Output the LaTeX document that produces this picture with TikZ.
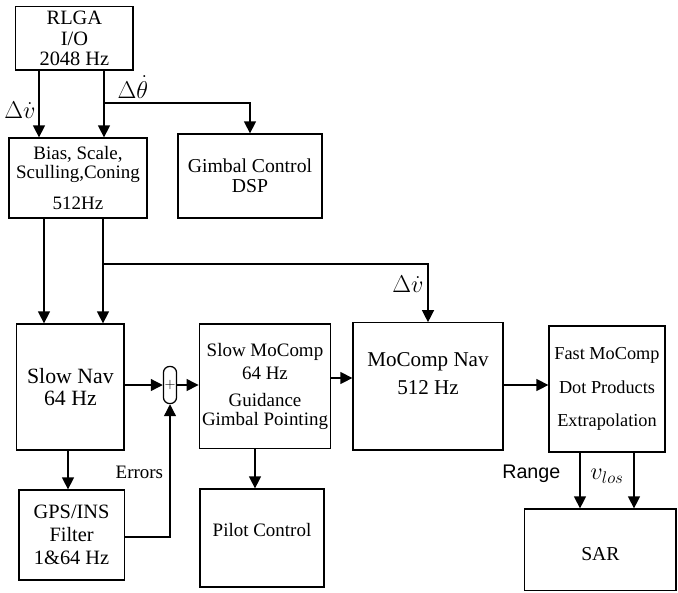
\documentclass[tikz,border=0pt]{standalone}
\usepackage{fontspec}
\setmainfont{Liberation Serif}
\newfontfamily\sansfont{Liberation Sans}
\usetikzlibrary{arrows.meta}

\tikzset{
    blk/.style={draw,line width=0.9pt,align=center,inner sep=2pt},
    arr/.style={line width=0.9pt,-{Triangle[length=8.5pt,width=8.5pt]}},
    fs/.style={font=\fontsize{#1}{#1}\selectfont}
}

\begin{document}
\begin{tikzpicture}[font=\fontsize{13.5}{15}\selectfont]
    \useasboundingbox (0,0) rectangle (16.95,-14.8);
    \node[blk,minimum width=2.93cm,minimum height=1.58cm,fs=14.5] (rlga) at (1.86,-0.96) {RLGA\\ I/O\\ 2048 Hz};
    \node[blk,minimum width=3.45cm,minimum height=2cm,fs=13.5] (bias) at (1.95,-4.45) {Bias, Scale,\\ Sculling,Coning\\[8pt] 512Hz};
    \node[blk,minimum width=3.6cm,minimum height=2.1cm,fs=14] (gimbal) at (6.25,-4.4) {Gimbal Control\\ DSP};
    \node[blk,minimum width=2.68cm,minimum height=3.15cm,fs=15.5] (slownav) at (1.76,-9.675) {Slow Nav\\ 64 Hz};
    \node[draw,line width=0.9pt,minimum width=0.33cm,minimum height=0.93cm,rounded corners=0.16cm,inner sep=0pt,fs=10] (sum) at (4.25,-9.625) {$+$};
    \node[blk,minimum width=3.25cm,minimum height=3.12cm,fs=13.5] (slowmc) at (6.625,-9.66) {Slow MoComp\\[3pt] 64 Hz\\[6pt] Guidance\\ Gimbal Pointing};
    \node[blk,minimum width=3.75cm,minimum height=3.18cm,fs=15,text depth=0.65cm] (mcnav) at (10.7,-9.66) {MoComp Nav\\[5pt] 512 Hz};
    \node[blk,minimum width=2.9cm,minimum height=3.15cm,fs=13] (fast) at (15.175,-9.725) {Fast MoComp\\[11pt] Dot Products\\[11pt] Extrapolation};
    \node[blk,minimum width=2.63cm,minimum height=2.25cm,fs=14.5] (gps) at (1.79,-13.375) {GPS/INS\\[2pt] Filter\\[2pt] 1\&64 Hz};
    \node[blk,minimum width=3.1cm,minimum height=2.45cm,fs=13.5,text depth=0.4cm] (pilot) at (6.55,-13.45) {Pilot Control};
    \node[blk,minimum width=3.78cm,minimum height=2.03cm,fs=14,text height=0.55cm] (sar) at (15.01,-13.74) {SAR};

    \coordinate (xa) at (0.975,0);
    \coordinate (xb) at (2.6,0);
    \coordinate (xc) at (1.1,0);
    \coordinate (xd) at (2.575,0);
    \coordinate (xe) at (1.7,0);
    \coordinate (xf) at (6.375,0);
    \coordinate (xg) at (14.5,0);
    \coordinate (xh) at (15.85,0);
    \coordinate (ya) at (0,-9.45);
    \coordinate (yb) at (0,-9.625);
    \coordinate (yc) at (0,-13.425);
    \coordinate (tapa) at (2.6,-2.575);
    \coordinate (tapb) at (2.575,-6.6);

    \draw[arr] (xa |- rlga.south) -- (xa |- bias.north);
    \draw[arr] (xb |- rlga.south) -- (xb |- bias.north);
    \draw[arr] (tapa) -| (gimbal.north);
    \draw[arr] (xc |- bias.south) -- (xc |- slownav.north);
    \draw[arr] (xd |- bias.south) -- (xd |- slownav.north);
    \draw[arr] (tapb) -| (mcnav.north);
    \draw[arr] (slownav.east |- sum.west) -- (sum.west);
    \draw[arr] (sum.east) -- (sum.east -| slowmc.west);
    \draw[arr] (slowmc.east |- ya) -- (mcnav.west |- ya);
    \draw[arr] (mcnav.east |- yb) -- (fast.west |- yb);
    \draw[arr] (xe |- slownav.south) -- (xe |- gps.north);
    \draw[arr] (gps.east |- yc) -| (sum.south);
    \draw[arr] (xf |- slowmc.south) -- (xf |- pilot.north);
    \draw[arr] (xg |- fast.south) -- (xg |- sar.north);
    \draw[arr] (xh |- fast.south) -- (xh |- sar.north);

    \node[anchor=east,inner sep=1pt,fs=16] (dva) at (0.93,-2.75) {$\Delta\dot v$};
    \node[anchor=south west,inner sep=1pt,fs=16] (dth) at (2.9,-2.5) {$\Delta\dot\theta$};
    \node[anchor=east,inner sep=1pt,fs=16] (dvb) at (10.63,-7.1) {$\Delta\dot v$};
    \node[anchor=east,inner sep=1pt] (err) at (4.12,-11.82) {Errors};
    \node[anchor=east,inner sep=1pt,font=\sansfont\fontsize{14}{14}\selectfont] (rng) at (14.05,-11.85) {Range};
    \node[anchor=west,inner sep=1pt,fs=17] (vlos) at (14.72,-11.9) {$v_{los}$};
\end{tikzpicture}
\end{document}
